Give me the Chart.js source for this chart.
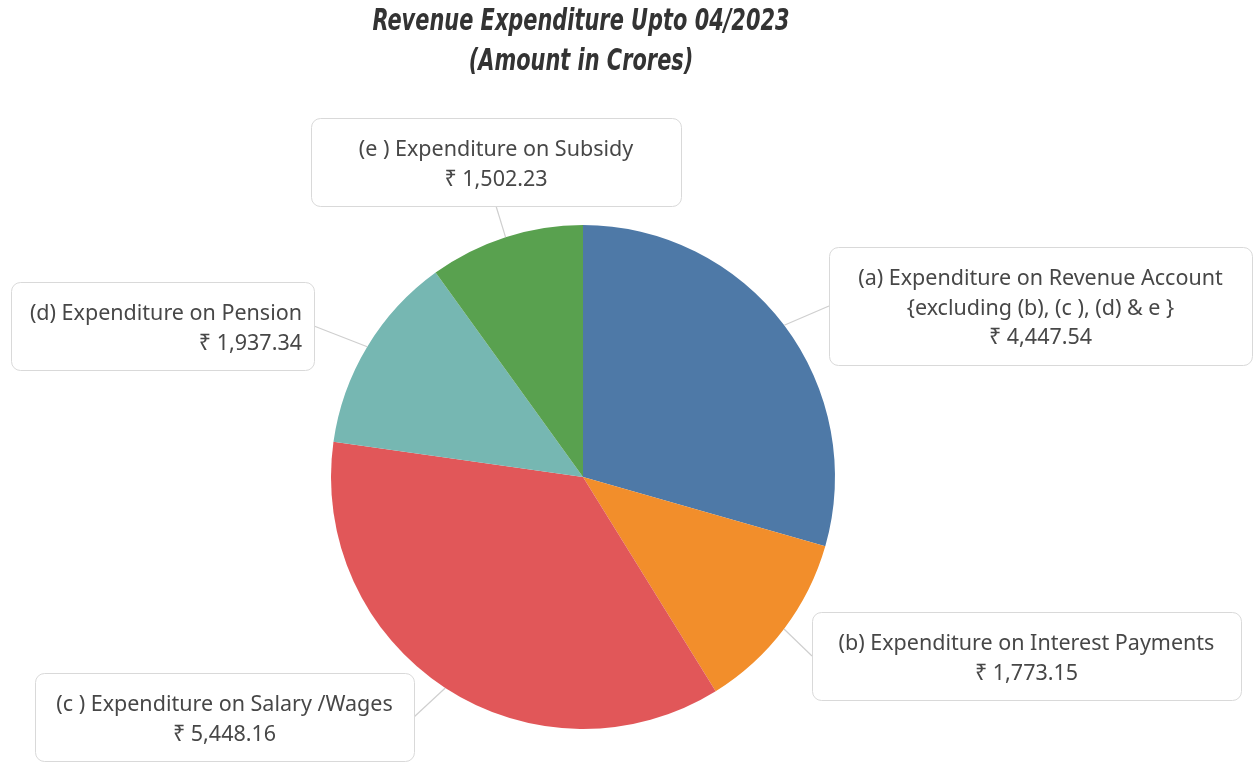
<!DOCTYPE html>
<html>
<head>
<meta charset="utf-8">
<script src="https://cdn.jsdelivr.net/npm/chart.js@4"></script>
<style>
  html, body { margin: 0; padding: 0; background: #fff; }
  #wrap { width: 1256px; height: 763px; }
</style>
</head>
<body>
<div id="wrap"><canvas id="pieChart" width="1256" height="763"></canvas></div>
<script>
// categories, values, colours
const titleLines = ['Revenue Expenditure Upto 04/2023', '(Amount in Crores)'];
const labels = [
  ['(a) Expenditure on Revenue Account', '{excluding (b), (c ), (d) & e }'],
  ['(b) Expenditure on Interest Payments'],
  ['(c ) Expenditure on Salary /Wages'],
  ['(d) Expenditure on Pension'],
  ['(e ) Expenditure on Subsidy']
];
const values = [4447.54, 1773.15, 5448.16, 1937.34, 1502.23];
const colors = ['#4e79a7', '#f28e2b', '#e15759', '#76b7b2', '#59a14f'];

// label box layout (left, top, width, text align)
const boxes = [
  { x: 829, y: 247, w: 423, align: 'center' },
  { x: 812, y: 612, w: 429, align: 'center' },
  { x: 35,  y: 673, w: 379, align: 'center' },
  { x: 11,  y: 282, w: 303, align: 'right' },
  { x: 311, y: 118, w: 370, align: 'center' }
];

const fmt = v => '₹ ' + v.toLocaleString('en-US', { minimumFractionDigits: 2, maximumFractionDigits: 2 });

function roundRect(c, x, y, w, h, r) {
  c.beginPath();
  c.moveTo(x + r, y);
  c.lineTo(x + w - r, y);
  c.arcTo(x + w, y, x + w, y + r, r);
  c.lineTo(x + w, y + h - r);
  c.arcTo(x + w, y + h, x + w - r, y + h, r);
  c.lineTo(x + r, y + h);
  c.arcTo(x, y + h, x, y + h - r, r);
  c.lineTo(x, y + r);
  c.arcTo(x, y, x + r, y, r);
  c.closePath();
}

// condensed bold italic title, drawn as canvas text
const titlePlugin = {
  id: 'narrowTitle',
  afterDraw(chart) {
    const c = chart.ctx;
    c.save();
    c.font = 'italic bold 31px "DejaVu Sans Condensed", sans-serif';
    c.fillStyle = '#333333';
    c.textAlign = 'center';
    c.textBaseline = 'middle';
    const cx = (chart.chartArea.left + chart.chartArea.right) / 2 - 2;
    const w0 = c.measureText(titleLines[0]).width;
    const sx = 417 / w0;
    titleLines.forEach((t, k) => {
      c.save();
      c.translate(cx, 22 + k * 40);
      c.scale(sx, 1);
      c.fillText(t, 0, 0);
      c.restore();
    });
    c.restore();
  }
};

const calloutPlugin = {
  id: 'callouts',
  afterDatasetsDraw(chart) {
    const c = chart.ctx;
    const arcs = chart.getDatasetMeta(0).data;
    c.save();
    arcs.forEach((arc, i) => {
      const b = boxes[i];
      const lines = labels[i].concat([fmt(values[i])]);
      const h = 30 * lines.length + 28;
      const mid = (arc.startAngle + arc.endAngle) / 2;
      const ax = arc.x + Math.cos(mid) * arc.outerRadius;
      const ay = arc.y + Math.sin(mid) * arc.outerRadius;
      // nearest side midpoint of box
      const sides = [
        [b.x + b.w / 2, b.y], [b.x + b.w / 2, b.y + h],
        [b.x, b.y + h / 2], [b.x + b.w, b.y + h / 2]
      ];
      let best = sides[0], bd = Infinity;
      sides.forEach(p => {
        const d = Math.hypot(p[0] - ax, p[1] - ay);
        if (d < bd) { bd = d; best = p; }
      });
      c.strokeStyle = '#cfcfcf';
      c.lineWidth = 1.2;
      c.beginPath();
      c.moveTo(ax, ay);
      c.lineTo(best[0], best[1]);
      c.stroke();

      roundRect(c, b.x + 0.5, b.y + 0.5, b.w, h, 9);
      c.fillStyle = '#ffffff';
      c.fill();
      c.strokeStyle = '#d9d9d9';
      c.lineWidth = 1;
      c.stroke();

      c.fillStyle = '#474747';
      c.font = '21.5px "Noto Sans", sans-serif';
      c.textBaseline = 'middle';
      c.textAlign = b.align;
      const tx = b.align === 'right' ? b.x + b.w - 12 : b.x + b.w / 2;
      lines.forEach((t, k) => {
        c.fillText(t, tx, b.y + 32 + k * 29.5);
      });
    });
    c.restore();
  }
};

new Chart(document.getElementById('pieChart'), {
  type: 'pie',
  data: {
    labels: labels.map(l => l.join(' ')),
    datasets: [{
      data: values,
      backgroundColor: colors,
      borderWidth: 0
    }]
  },
  options: {
    responsive: false,
    animation: false,
    layout: { padding: { left: 331, right: 421, top: 225, bottom: 34 } },
    plugins: {
      legend: { display: false },
      tooltip: { enabled: false },
      title: { display: false }
    }
  },
  plugins: [calloutPlugin, titlePlugin]
});
</script>
</body>
</html>
